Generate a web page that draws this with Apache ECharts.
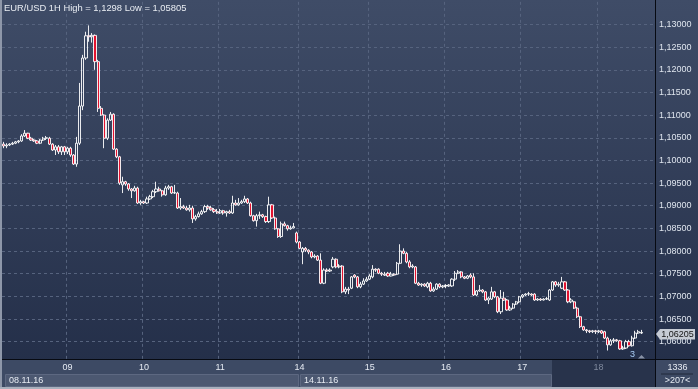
<!DOCTYPE html>
<html><head><meta charset="utf-8">
<script src="https://cdn.jsdelivr.net/npm/echarts@6/dist/echarts.min.js"></script>
<style>html,body{margin:0;padding:0;background:#2f3b55}#c{width:698px;height:389px}</style>
</head><body><div id="c"></div>
<script>
const titleText = 'EUR/USD 1H High = 1,1298 Low = 1,05805';
const openP = [
1.1036,1.1032,1.1034,1.1036,1.1038,1.1041,1.1043,1.1054,1.1060,1.1049,
1.1045,1.1043,1.1038,1.1045,1.1049,1.1049,1.1036,1.1023,1.1030,1.1019,
1.1030,1.1019,1.1027,1.1012,1.0992,1.1038,1.1120,1.1226,1.1275,1.1273,
1.1276,1.1218,1.1115,1.1100,1.1049,1.1089,1.1102,1.1025,1.1008,1.0946,
1.0953,1.0948,1.0937,1.0933,1.0939,1.0906,1.0909,1.0906,1.0915,1.0920,
1.0931,1.0937,1.0933,1.0924,1.0939,1.0942,1.0928,1.0928,1.0895,1.0898,
1.0895,1.0891,1.0895,1.0871,1.0876,1.0882,1.0887,1.0898,1.0895,1.0891,
1.0887,1.0884,1.0889,1.0884,1.0887,1.0884,1.0906,1.0902,1.0906,1.0909,
1.0915,1.0906,1.0878,1.0867,1.0878,1.0880,1.0876,1.0865,1.0902,1.0873,
1.0849,1.0832,1.0860,1.0856,1.0849,1.0851,1.0840,1.0820,1.0798,1.0806,
1.0802,1.0798,1.0787,1.0789,1.0780,1.0729,1.0758,1.0756,1.0765,1.0782,
1.0765,1.0767,1.0710,1.0716,1.0718,1.0747,1.0743,1.0721,1.0727,1.0734,
1.0738,1.0743,1.0760,1.0760,1.0751,1.0747,1.0751,1.0745,1.0749,1.0749,
1.0773,1.0800,1.0795,1.0776,1.0765,1.0765,1.0729,1.0725,1.0727,1.0721,
1.0729,1.0712,1.0716,1.0727,1.0721,1.0723,1.0723,1.0723,1.0738,1.0751,
1.0754,1.0743,1.0740,1.0747,1.0743,1.0703,1.0712,1.0714,1.0710,1.0692,
1.0694,1.0710,1.0699,1.0666,1.0696,1.0692,1.0670,1.0674,1.0683,1.0688,
1.0699,1.0703,1.0705,1.0705,1.0705,1.0692,1.0694,1.0692,1.0694,1.0692,
1.0714,1.0732,1.0725,1.0718,1.0732,1.0714,1.0688,1.0688,1.0674,1.0655,
1.0633,1.0626,1.0624,1.0622,1.0624,1.0622,1.0624,1.0622,1.0608,1.0593,
1.0602,1.0604,1.0602,1.0584,1.0586,1.0600,1.0591,1.0608,1.0619,1.0619];
const closeP = [
1.1032,1.1034,1.1036,1.1038,1.1041,1.1043,1.1054,1.1060,1.1049,1.1045,
1.1043,1.1038,1.1045,1.1049,1.1050,1.1036,1.1023,1.1030,1.1019,1.1030,
1.1019,1.1027,1.1012,1.0992,1.1038,1.1120,1.1226,1.1275,1.1273,1.1276,
1.1218,1.1115,1.1100,1.1049,1.1089,1.1102,1.1025,1.1008,1.0950,1.0953,
1.0948,1.0937,1.0933,1.0939,1.0906,1.0909,1.0906,1.0915,1.0920,1.0931,
1.0937,1.0933,1.0924,1.0939,1.0942,1.0928,1.0929,1.0895,1.0898,1.0895,
1.0891,1.0895,1.0871,1.0876,1.0882,1.0887,1.0898,1.0895,1.0891,1.0887,
1.0884,1.0889,1.0884,1.0887,1.0884,1.0906,1.0902,1.0906,1.0909,1.0915,
1.0906,1.0878,1.0867,1.0878,1.0880,1.0876,1.0865,1.0902,1.0873,1.0849,
1.0832,1.0860,1.0856,1.0849,1.0851,1.0854,1.0820,1.0806,1.0806,1.0802,
1.0798,1.0787,1.0789,1.0780,1.0729,1.0758,1.0756,1.0758,1.0782,1.0765,
1.0767,1.0710,1.0716,1.0714,1.0743,1.0743,1.0721,1.0727,1.0734,1.0738,
1.0745,1.0760,1.0758,1.0751,1.0749,1.0749,1.0745,1.0749,1.0747,1.0773,
1.0800,1.0795,1.0776,1.0765,1.0767,1.0729,1.0725,1.0727,1.0723,1.0729,
1.0712,1.0716,1.0727,1.0721,1.0723,1.0724,1.0725,1.0738,1.0751,1.0754,
1.0743,1.0740,1.0745,1.0743,1.0703,1.0712,1.0714,1.0710,1.0692,1.0696,
1.0710,1.0699,1.0666,1.0696,1.0692,1.0670,1.0674,1.0683,1.0688,1.0699,
1.0703,1.0705,1.0706,1.0703,1.0692,1.0694,1.0692,1.0694,1.0695,1.0714,
1.0732,1.0725,1.0727,1.0732,1.0714,1.0688,1.0692,1.0674,1.0655,1.0633,
1.0626,1.0624,1.0622,1.0624,1.0622,1.0624,1.0619,1.0608,1.0593,1.0602,
1.0604,1.0602,1.0584,1.0586,1.0600,1.0591,1.0608,1.0619,1.0622,1.06205];
const lowP = [
1.1027,1.1027,1.1032,1.1034,1.1036,1.1038,1.1041,1.1052,1.1047,1.1043,
1.1041,1.1036,1.1036,1.1043,1.1045,1.1034,1.1021,1.1012,1.1014,1.1012,
1.1012,1.1014,1.1008,1.0990,1.0986,1.1034,1.1111,1.1222,1.1262,1.1260,
1.1200,1.1107,1.1098,1.1027,1.1045,1.1087,1.1023,1.1005,1.0946,1.0928,
1.0944,1.0933,1.0917,1.0931,1.0904,1.0902,1.0904,1.0904,1.0913,1.0917,
1.0928,1.0931,1.0920,1.0922,1.0935,1.0926,1.0926,1.0893,1.0891,1.0893,
1.0889,1.0887,1.0862,1.0867,1.0874,1.0880,1.0884,1.0891,1.0889,1.0884,
1.0882,1.0882,1.0880,1.0876,1.0882,1.0882,1.0900,1.0900,1.0904,1.0906,
1.0904,1.0876,1.0865,1.0854,1.0871,1.0873,1.0862,1.0862,1.0871,1.0847,
1.0829,1.0829,1.0854,1.0845,1.0847,1.0850,1.0817,1.0804,1.0771,1.0798,
1.0793,1.0784,1.0784,1.0778,1.0727,1.0727,1.0754,1.0754,1.0762,1.0762,
1.0762,1.0707,1.0705,1.0705,1.0716,1.0740,1.0718,1.0718,1.0725,1.0732,
1.0736,1.0740,1.0754,1.0749,1.0745,1.0745,1.0743,1.0744,1.0745,1.0747,
1.0771,1.0793,1.0773,1.0762,1.0762,1.0727,1.0723,1.0721,1.0721,1.0718,
1.0710,1.0710,1.0714,1.0718,1.0718,1.0718,1.0721,1.0721,1.0734,1.0749,
1.0740,1.0738,1.0738,1.0740,1.0701,1.0701,1.0710,1.0707,1.0690,1.0683,
1.0692,1.0696,1.0663,1.0661,1.0690,1.0668,1.0668,1.0672,1.0681,1.0685,
1.0696,1.0701,1.0701,1.0701,1.0690,1.0690,1.0690,1.0691,1.0692,1.0690,
1.0712,1.0721,1.0721,1.0716,1.0712,1.0685,1.0685,1.0672,1.0652,1.0630,
1.0624,1.0619,1.0619,1.0619,1.0617,1.0619,1.0617,1.0606,1.05805,1.0591,
1.0597,1.0600,1.0582,1.0582,1.0584,1.0589,1.0589,1.0606,1.0617,1.0617];
const highP = [
1.1041,1.1038,1.1038,1.1041,1.1043,1.1045,1.1058,1.1067,1.1061,1.1052,
1.1047,1.1045,1.1047,1.1052,1.1054,1.1052,1.1038,1.1034,1.1034,1.1032,
1.1032,1.1030,1.1030,1.1014,1.1052,1.1171,1.1233,1.1284,1.1298,1.1281,
1.1278,1.1222,1.1120,1.1102,1.1093,1.1107,1.1104,1.1027,1.1010,1.0964,
1.0955,1.0950,1.0939,1.0944,1.0942,1.0913,1.0911,1.0920,1.0924,1.0935,
1.0953,1.0942,1.0935,1.0944,1.0946,1.0944,1.0946,1.0931,1.0917,1.0902,
1.0900,1.0902,1.0900,1.0880,1.0887,1.0891,1.0902,1.0902,1.0900,1.0895,
1.0893,1.0893,1.0891,1.0889,1.0891,1.0922,1.0913,1.0917,1.0913,1.0922,
1.0917,1.0909,1.0880,1.0882,1.0887,1.0882,1.0878,1.0920,1.0904,1.0876,
1.0851,1.0865,1.0865,1.0858,1.0856,1.0862,1.0843,1.0822,1.0809,1.0809,
1.0804,1.0800,1.0793,1.0791,1.0795,1.0762,1.0762,1.0762,1.0787,1.0784,
1.0771,1.0769,1.0721,1.0721,1.0745,1.0749,1.0745,1.0732,1.0740,1.0743,
1.0749,1.0769,1.0762,1.0762,1.0754,1.0754,1.0754,1.0754,1.0751,1.0776,
1.0815,1.0806,1.0798,1.0780,1.0771,1.0767,1.0732,1.0729,1.0729,1.0732,
1.0732,1.0721,1.0729,1.0729,1.0725,1.0727,1.0727,1.0740,1.0756,1.0758,
1.0756,1.0745,1.0747,1.0751,1.0751,1.0714,1.0725,1.0716,1.0712,1.0699,
1.0721,1.0712,1.0701,1.0714,1.0710,1.0694,1.0679,1.0685,1.0690,1.0701,
1.0705,1.0707,1.0710,1.0707,1.0707,1.0696,1.0696,1.0696,1.0699,1.0716,
1.0734,1.0734,1.0732,1.0743,1.0734,1.0716,1.0696,1.0690,1.0677,1.0657,
1.0635,1.0628,1.0626,1.0626,1.0626,1.0626,1.0626,1.0624,1.0611,1.0606,
1.0608,1.0606,1.0604,1.0591,1.0604,1.0604,1.0613,1.0624,1.0626,1.0626];
const dayTickIndex = [21, 46, 71, 97, 120, 145, 170, 195];
const dayTickLabel = ['09', '10', '11', '14', '15', '16', '17', '18'];
const slotCount = 214;
const lastPrice = 1.06205;
const weekLabels = ['08.11.16', '14.11.16'];
const cornerTexts = ['1336', '>207<'];
const markerText = '3';

const FONT = '"Liberation Sans", Arial, sans-serif';
const fmt = v => v.toFixed(5).replace('.', ',');
const cats = Array.from({length: slotCount}, (_, i) => String(i));
const data = openP.map((o, i) => [o, closeP[i], lowP[i], highP[i]]);
const isDay = i => dayTickIndex.indexOf(i) >= 0;
const gridLine = '#56637e';
const txt = (text, x, y, fill, align, extra) => Object.assign({
  type: 'text', silent: true, z: 12,
  style: {text: text, x: x, y: y, fill: fill, font: '9px ' + FONT, textAlign: align || 'left', textVerticalAlign: 'middle'}
}, extra || {});
const rect = (x, y, w, h, fill, z, stroke) => ({
  type: 'rect', silent: true, z: z, shape: {x: x, y: y, width: w, height: h},
  style: stroke ? {fill: fill, stroke: stroke, lineWidth: 1} : {fill: fill}
});

const chart = echarts.init(document.getElementById('c'), null, {renderer: 'canvas'});
chart.setOption({
  animation: false,
  backgroundColor: {type: 'linear', x: 0, y: 0, x2: 0, y2: 1,
    colorStops: [{offset: 0, color: '#3f4c67'}, {offset: 1, color: '#222d47'}]},
  title: {text: titleText, left: 4, top: 3.5, padding: 0,
    textStyle: {color: '#e8ecf2', fontSize: 9.4, fontWeight: 'normal', fontFamily: FONT}},
  grid: {left: 2, right: 43, top: 1.84, bottom: 389 - 364.34},
  xAxis: [
    {type: 'category', data: cats, boundaryGap: true,
     axisLine: {show: false}, axisTick: {show: false}, axisLabel: {show: false},
     splitLine: {show: true, interval: (i) => isDay(i), lineStyle: {color: gridLine, type: [3, 3], width: 1}}},
    {type: 'category', data: cats, boundaryGap: true, position: 'bottom', offset: -5, z: 10,
     axisLine: {show: false}, axisTick: {show: false}, splitLine: {show: false},
     axisLabel: {show: true, interval: (i) => isDay(i), margin: 3.5, fontSize: 9, fontFamily: FONT,
       formatter: (v) => { const k = dayTickIndex.indexOf(Number(v)); return k >= 0 ? dayTickLabel[k] : ''; },
       color: (v) => Number(v) === dayTickIndex[dayTickIndex.length - 1] ? '#7f899d' : '#e6ebf3'}}
  ],
  yAxis: [
    {type: 'value', position: 'right', min: 1.055, max: 1.135, interval: 0.005,
     axisLine: {show: false}, axisTick: {show: false}, axisLabel: {show: false},
     splitLine: {show: true, showMinLine: false, showMaxLine: false, lineStyle: {color: gridLine, type: [3, 3], width: 1}}},
    {type: 'value', position: 'right', min: 1.055, max: 1.135, interval: 0.005, z: 10,
     axisLine: {show: false}, axisTick: {show: false}, splitLine: {show: false},
     axisLabel: {margin: 4, color: '#dfe5ee', fontSize: 9, fontFamily: FONT,
       formatter: (v) => (v < 1.0599 || v > 1.1301) ? '' : fmt(v)}}
  ],
  series: [{
    type: 'candlestick', xAxisIndex: 0, yAxisIndex: 0, data: data, barWidth: 2.7, z: 2,
    itemStyle: {color: 'rgba(0,0,0,0)', color0: '#e3122f', borderColor: '#ffffff', borderColor0: '#ffffff',
      borderColorDoji: '#ffffff', borderWidth: 0.9}
  }],
  graphic: [
    rect(0, 360, 655, 29, '#3d4a64', 5),
    rect(5.5, 374.5, 293, 12, '#4c5871', 6, '#5d6881'),
    rect(300.5, 374.5, 251, 12, '#4c5871', 6, '#5d6881'),
    rect(552, 360, 103, 29, '#28334b', 6),
    rect(0, 359, 698, 1, '#070a12', 7),
    rect(655, 0, 1, 389, '#070a12', 7),
    rect(656, 360, 42, 27, '#3d4a64', 6),
    rect(661, 373.5, 32, 1, '#20283a', 8),
    rect(0, 0, 2, 389, '#8e97a9', 8),
    rect(0, 387, 698, 2, '#a8b0bd', 8),
    txt(weekLabels[0], 9, 380.5, '#e6ebf3'),
    txt(weekLabels[1], 304, 380.5, '#e6ebf3'),
    txt(cornerTexts[0], 677.5, 367.5, '#e6ebf3', 'center'),
    txt(cornerTexts[1], 677.5, 380.5, '#e6ebf3', 'center'),
    {type: 'polygon', silent: true, z: 20,
     shape: {points: [[656, 334], [660, 329], [695, 329], [695, 339.5], [660, 339.5]]},
     style: {fill: '#c6cbd4'}},
    txt(fmt(lastPrice), 677.5, 334.5, '#141414', 'center', {z: 21}),
    txt(markerText, 632.5, 354.5, '#a9cdf5', 'center'),
    {type: 'polygon', silent: true, z: 12,
     shape: {points: [[638, 358.5], [641.5, 355], [645, 358.5]]}, style: {fill: '#8892a6'}}
  ]
});
</script></body></html>
